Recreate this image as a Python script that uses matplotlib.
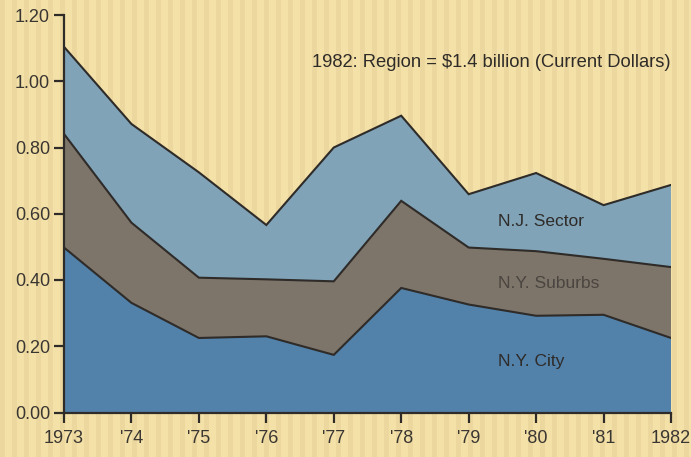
import matplotlib.pyplot as plt
from matplotlib.patches import Rectangle
import numpy as np
import matplotlib
matplotlib.rcParams['font.family'] = ['Liberation Sans', 'DejaVu Sans']

BG     = '#F4E1A8'
STRIPE = '#E6D096'
INK    = '#2E2B28'
C_CITY = '#5281AA'
C_SUB  = '#7E756A'
C_NJ   = '#80A3B8'

# ─── Data (billions of dollars) ───────────────────────────────
years       = [1973, 1974, 1975, 1976, 1977, 1978, 1979, 1980, 1981, 1982]
tick_labels = ['1973', "'74", "'75", "'76", "'77", "'78", "'79", "'80", "'81", '1982']
ny_city     = [0.498, 0.331, 0.225, 0.230, 0.174, 0.376, 0.326, 0.292, 0.295, 0.225]
ny_suburbs  = [0.343, 0.242, 0.182, 0.172, 0.222, 0.263, 0.172, 0.195, 0.169, 0.214]
nj_sector   = [0.263, 0.298, 0.318, 0.164, 0.404, 0.257, 0.161, 0.236, 0.162, 0.248]
series_names = ['N.Y. City', 'N.Y. Suburbs', 'N.J. Sector']

fig = plt.figure(figsize=(6.91, 4.57), dpi=100)
fig.patch.set_facecolor(BG)

# paper texture: faint vertical stripes
for x0 in np.arange(0, 1, 12 / 691):
    fig.add_artist(Rectangle((x0, 0), 5 / 691, 1, transform=fig.transFigure,
                             facecolor=STRIPE, edgecolor='none', alpha=0.5, zorder=0))

ax = fig.add_axes([64 / 691, 44.5 / 457, 607 / 691, 397.5 / 457])
ax.set_facecolor('none')

ax.stackplot(years, ny_city, ny_suburbs, nj_sector,
             colors=[C_CITY, C_SUB, C_NJ], linewidth=0, zorder=2)
tops = np.cumsum([ny_city, ny_suburbs, nj_sector], axis=0)
for t in tops:
    ax.plot(years, t, color=INK, lw=1.5, zorder=3, solid_joinstyle='miter')

ax.set_xlim(1973, 1982)
ax.set_ylim(0, 1.2)
ax.set_xticks(years)
ax.set_xticklabels(tick_labels)
ax.set_yticks(np.arange(0, 1.21, 0.2))
ax.set_yticklabels([f'{v:.2f}' for v in np.arange(0, 1.21, 0.2)])

for s in ['top', 'right']:
    ax.spines[s].set_visible(False)
for s in ['left', 'bottom']:
    ax.spines[s].set_color(INK)
    ax.spines[s].set_linewidth(1.6)
    ax.spines[s].set_zorder(4)
ax.tick_params(direction='out', length=7.5, width=1.6, color=INK,
               labelcolor='#3A3632', labelsize=13)
ax.tick_params(axis='x', pad=5)
ax.tick_params(axis='y', pad=2.5)

# ─── Labels ───────────────────────────────────────────────────
ax.text(1982, 1.056, '1982: Region = $1.4 billion (Current Dollars)',
        ha='right', va='center', fontsize=13.2, color='#2E2B28')
ax.text(1979.43, 0.578, series_names[2], ha='left', va='center', fontsize=12.5, color='#2E2B28', zorder=5)
ax.text(1979.43, 0.389, series_names[1], ha='left', va='center', fontsize=12.5, color='#4A4540', zorder=5)
ax.text(1979.43, 0.154, series_names[0], ha='left', va='center', fontsize=12.5, color='#2E2B28', zorder=5)

plt.savefig('out.png', dpi=100, facecolor=BG)
plt.close()
